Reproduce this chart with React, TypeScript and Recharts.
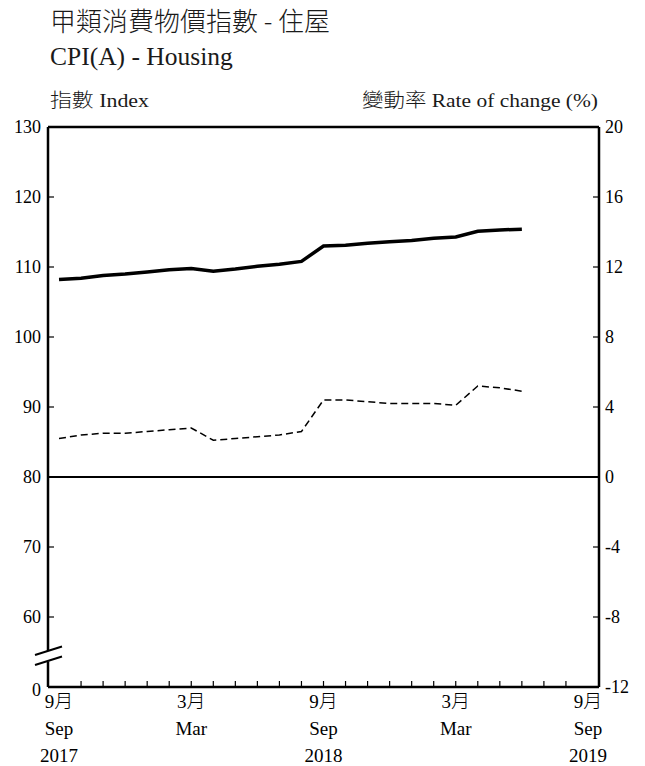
import React from 'react';
import { LineChart, Line, XAxis, YAxis, ReferenceLine } from 'recharts';

// Months since Sep 2017 (0 = Sep 2017)
const months = [0, 1, 2, 3, 4, 5, 6, 7, 8, 9, 10, 11, 12, 13, 14, 15, 16, 17, 18, 19, 20, 21];
const indexValues = [108.2, 108.4, 108.8, 109.0, 109.3, 109.6, 109.8, 109.4, 109.7, 110.1, 110.4, 110.8, 113.0, 113.1, 113.4, 113.6, 113.8, 114.1, 114.3, 115.1, 115.3, 115.4];
const rateValues = [2.2, 2.4, 2.5, 2.5, 2.6, 2.7, 2.8, 2.1, 2.2, 2.3, 2.4, 2.6, 4.4, 4.4, 4.3, 4.2, 4.2, 4.2, 4.1, 5.2, 5.1, 4.9];

const xTicks = [0, 1, 2, 3, 4, 5, 6, 7, 8, 9, 10, 11, 12, 13, 14, 15, 16, 17, 18, 19, 20, 21, 22, 23, 24];
const labelMonths = [0, 6, 12, 18, 24];
const labelZh = ['9月', '3月', '9月', '3月', '9月'];
const labelEn = ['Sep', 'Mar', 'Sep', 'Mar', 'Sep'];
const labelYear = ['2017', '', '2018', '', '2019'];

const leftTicks = [50, 60, 70, 80, 90, 100, 110, 120, 130];
const leftTickLabels = ['0', '60', '70', '80', '90', '100', '110', '120', '130'];
const rightTicks = [-12, -8, -4, 0, 4, 8, 12, 16, 20];

const data = months.map((m, i) => ({ m, index: indexValues[i], rate: rateValues[i] }));

const FONT = "'Liberation Serif', 'Noto Sans CJK TC', serif";

const XTick = (props: any) => {
  const { x, y, payload } = props;
  const v = payload.value;
  const k = labelMonths.indexOf(v);
  return (
    <g>
      {v > 0 && v < 24 ? <line x1={x} y1={y} x2={x} y2={y - 6} stroke="#000" strokeWidth={1.2} /> : null}
      {k >= 0 ? (
        <g fontFamily={FONT} fontSize={19} fontWeight={300} fill="#000" textAnchor="middle">
          <text x={x} y={y + 21}>{labelZh[k]}</text>
          <text x={x} y={y + 48}>{labelEn[k]}</text>
          {labelYear[k] ? <text x={x} y={y + 75}>{labelYear[k]}</text> : null}
        </g>
      ) : null}
    </g>
  );
};

const LeftTick = (props: any) => {
  const { x, y, payload } = props;
  const v = payload.value;
  const k = leftTicks.indexOf(v);
  return (
    <g>
      {v > 50 && v < 130 ? <line x1={x} y1={y} x2={x + 6} y2={y} stroke="#000" strokeWidth={1.2} /> : null}
      <text x={x - 7} y={y + (v === 50 ? 3 : 0)} dy="0.35em" textAnchor="end" fontFamily={FONT} fontSize={18} fill="#000">
        {leftTickLabels[k]}
      </text>
    </g>
  );
};

const RightTick = (props: any) => {
  const { x, y, payload } = props;
  const v = payload.value;
  return (
    <g>
      {v > -12 && v < 20 ? <line x1={x} y1={y} x2={x - 6} y2={y} stroke="#000" strokeWidth={1.2} /> : null}
      <text x={x + 6} y={y} dy="0.35em" textAnchor="start" fontFamily={FONT} fontSize={18} fill="#000">
        {v}
      </text>
    </g>
  );
};

export default function App() {
  return (
    <div style={{ position: 'absolute', left: 0, top: 0, width: 645, height: 766, background: '#fff' }}>
      <LineChart width={645} height={766} data={data} margin={{ top: 127, right: 6, bottom: 0, left: 8 }}>
        <XAxis
          dataKey="m"
          type="number"
          domain={[-0.5, 24.5]}
          ticks={xTicks}
          interval={0}
          height={79}
          tickSize={0}
          tickMargin={0}
          tickLine={false}
          axisLine={{ stroke: '#000', strokeWidth: 2.5 }}
          tick={<XTick />}
        />
        <YAxis
          yAxisId="left"
          width={40}
          domain={[50, 130]}
          ticks={leftTicks}
          interval={0}
          tickSize={0}
          tickMargin={0}
          tickLine={false}
          axisLine={{ stroke: '#000', strokeWidth: 2.5 }}
          tick={<LeftTick />}
        />
        <YAxis
          yAxisId="right"
          orientation="right"
          width={40}
          domain={[-12, 20]}
          ticks={rightTicks}
          interval={0}
          tickSize={0}
          tickMargin={0}
          tickLine={false}
          axisLine={{ stroke: '#000', strokeWidth: 2.5 }}
          tick={<RightTick />}
        />
        <ReferenceLine yAxisId="left" y={130} stroke="#000" strokeWidth={2.5} />
        <ReferenceLine yAxisId="left" y={80} stroke="#000" strokeWidth={2} />
        <Line
          yAxisId="right"
          type="linear"
          dataKey="rate"
          stroke="#000"
          strokeWidth={1.5}
          strokeDasharray="7 4"
          dot={false}
          activeDot={false}
          isAnimationActive={false}
        />
        <Line
          yAxisId="left"
          type="linear"
          dataKey="index"
          stroke="#000"
          strokeWidth={3.5}
          dot={false}
          activeDot={false}
          isAnimationActive={false}
        />
      </LineChart>
      <svg width={645} height={766} style={{ position: 'absolute', left: 0, top: 0, pointerEvents: 'none' }}>
        <text x={50} y={31} fontFamily="'Noto Sans CJK TC', sans-serif" fontWeight={300} fontSize={26} fill="#1a1a1a" textLength={280} lengthAdjust="spacingAndGlyphs">
          甲類消費物價指數 - 住屋
        </text>
        <text x={50} y={65} fontFamily={FONT} fontSize={25.5} fill="#1a1a1a">
          CPI(A) - Housing
        </text>
        <text x={50} y={107} fontFamily={FONT} fontWeight={300} fontSize={19.5} fill="#1a1a1a" textLength={99} lengthAdjust="spacingAndGlyphs">
          指數 Index
        </text>
        <text x={362} y={107} fontFamily={FONT} fontWeight={300} fontSize={19.5} fill="#1a1a1a" textLength={236} lengthAdjust="spacingAndGlyphs">
          變動率 Rate of change (%)
        </text>
        <polygon points="34,655 63,646 63,657 34,666" fill="#fff" />
        <line x1={35} y1={655} x2={62} y2={646.5} stroke="#000" strokeWidth={2} />
        <line x1={35} y1={665} x2={62} y2={656.5} stroke="#000" strokeWidth={2} />
      </svg>
    </div>
  );
}
